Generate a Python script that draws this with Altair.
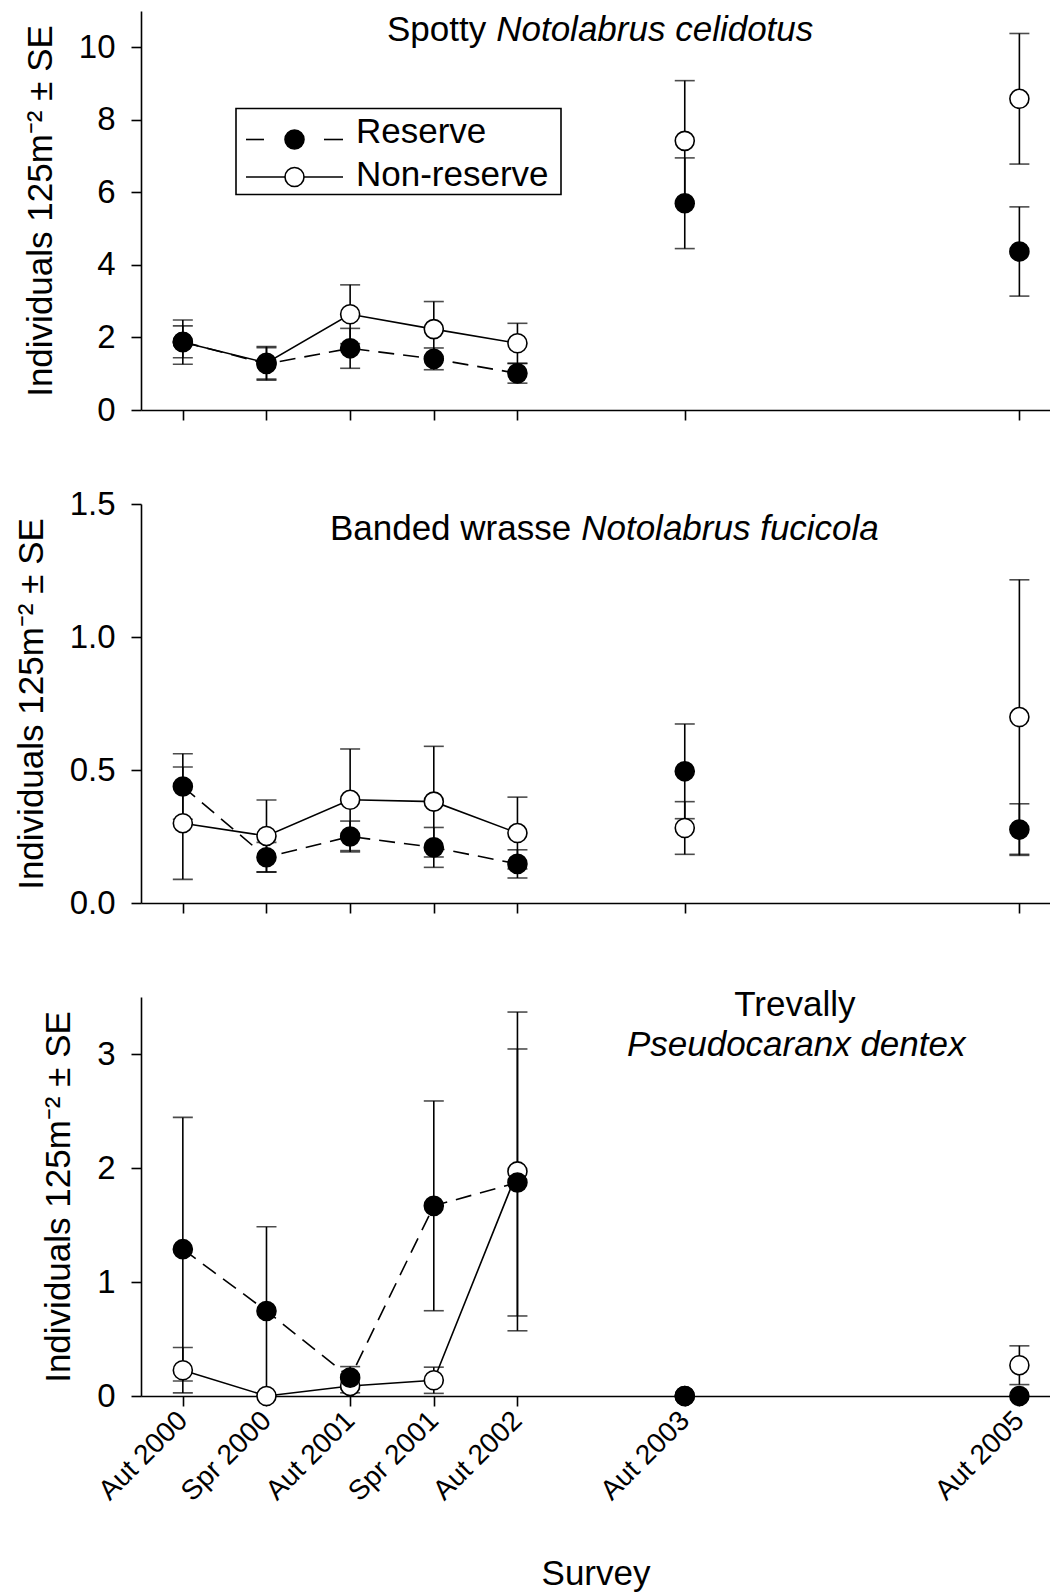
import altair as alt
import pandas as pd

FONT = "Liberation Sans"

# Survey occasions and their position on the time axis (years after Aut 2000)
surveys = ["Aut 2000", "Spr 2000", "Aut 2001", "Spr 2001", "Aut 2002", "Aut 2003", "Aut 2005"]
survey_years = [0, 0.5, 1, 1.5, 2, 3, 5]
n_joined = 5  # the first five (consecutive) surveys are joined by lines
sites = ["Reserve", "Non-reserve"]

# Spotty, Notolabrus celidotus: mean and SE (individuals per 125 m2)
spotty_res_mean = [1.88, 1.27, 1.70, 1.41, 1.01, 5.70, 4.37]
spotty_res_se = [0.44, 0.45, 0.55, 0.30, 0.27, 1.25, 1.23]
spotty_non_mean = [1.87, 1.30, 2.64, 2.23, 1.84, 7.42, 8.58]
spotty_non_se = [0.61, 0.45, 0.81, 0.76, 0.55, 1.66, 1.80]

# Banded wrasse, Notolabrus fucicola
banded_res_mean = [0.438, 0.172, 0.250, 0.209, 0.147, 0.495, 0.276]
banded_res_se = [0.123, 0.056, 0.058, 0.075, 0.053, 0.178, 0.097]
banded_non_mean = [0.300, 0.252, 0.388, 0.381, 0.263, 0.282, 0.699]
banded_non_se = [0.211, 0.135, 0.191, 0.208, 0.135, 0.099, 0.516]

# Trevally, Pseudocaranx dentex
trev_res_mean = [1.288, 0.746, 0.161, 1.668, 1.873, 0.0, 0.0]
trev_res_se = [1.156, 0.738, 0.097, 0.920, 1.171, 0.0, 0.0]
trev_non_mean = [0.226, 0.0, 0.088, 0.138, 1.970, 0.0, 0.27]
trev_non_se = [0.199, 0.0, 0.060, 0.115, 1.398, 0.0, 0.17]

Y_TITLE = "Individuals 125m\u207b\u00b2 \u00b1 SE"
PLOT_W, PLOT_H = 909, 399
X_DOMAIN = [-0.25, 5.183]
LW = 1.6
DASH = [16, 9]
MARK_SIZE = 361

label_expr = "".join(
    f"datum.value == {v} ? '{s}' : " for v, s in zip(survey_years, surveys)
) + "''"


def frame(res_mean, res_se, non_mean, non_se):
    rows = []
    for site, means, ses in (("Non-reserve", non_mean, non_se), ("Reserve", res_mean, res_se)):
        for i, (name, pos, m, s) in enumerate(zip(surveys, survey_years, means, ses)):
            rows.append(dict(survey=name, pos=pos, site=site, mean=m, se=s,
                             lo=m - s, hi=m + s, joined=i < n_joined))
    return pd.DataFrame(rows)


def legend_layers():
    """Key box in the upper left of the first panel (pixel offsets in the plot area)."""
    key = pd.DataFrame({"site": sites})
    box = alt.Chart(key).transform_filter("datum.site == 'Reserve'").mark_rect(
        fill="white", stroke="black", strokeWidth=LW).encode(
        x=alt.value(95), x2=alt.value(420), y=alt.value(97.5), y2=alt.value(183.5))
    out = [box]
    rows = {"Reserve": (128.5, 131.8, "black", True),
            "Non-reserve": (166, 175.2, "white", False)}
    for site, (ym, ytext, fill, dashed) in rows.items():
        sel = alt.Chart(key).transform_filter(f"datum.site == '{site}'")
        segs = [(105, 123), (183, 202)] if dashed else [(105, 202)]
        for a, b in segs:
            out.append(sel.mark_rule(color="black", strokeWidth=LW).encode(
                x=alt.value(a), x2=alt.value(b), y=alt.value(ym)))
        out.append(sel.mark_point(shape="circle", filled=True, fill=fill, stroke="black",
                                  strokeWidth=LW, size=MARK_SIZE, opacity=1).encode(
            x=alt.value(153.5), y=alt.value(ym)))
        out.append(sel.mark_text(font=FONT, fontSize=35, align="left", baseline="alphabetic",
                                 color="black").encode(
            x=alt.value(215), y=alt.value(ytext), text="site:N"))
    return out


def panel(df, ymax, yticks, yfmt, titles, bottom=False, legend=False):
    xaxis = alt.Axis(values=survey_years, labels=bottom, labelExpr=label_expr,
                     labelAngle=-45, labelAlign="right", labelBaseline="middle",
                     labelOverlap=False, labelPadding=10, labelFontSize=28,
                     title="Survey" if bottom else None, titlePadding=50)
    xs = alt.Scale(domain=X_DOMAIN, nice=False, zero=False)
    ys = alt.Scale(domain=[0, ymax], nice=False)
    yaxis = alt.Axis(values=yticks, format=yfmt, title=Y_TITLE, labelPadding=16,
                     titlePadding=20)

    def X(f):
        return alt.X(f, type="quantitative", scale=xs, axis=xaxis)

    def Y(f):
        return alt.Y(f, type="quantitative", scale=ys, axis=yaxis)

    base = alt.Chart(df)
    with_err = base.transform_filter("datum.se > 0")
    bars = with_err.mark_rule(color="black", strokeWidth=LW).encode(
        x=X("pos"), y=Y("lo"), y2="hi")
    cap_lo = with_err.mark_tick(orient="horizontal", size=20, thickness=LW, color="black").encode(
        x=X("pos"), y=Y("lo"))
    cap_hi = with_err.mark_tick(orient="horizontal", size=20, thickness=LW, color="black").encode(
        x=X("pos"), y=Y("hi"))
    line_non = base.transform_filter("datum.joined && datum.site == 'Non-reserve'").mark_line(
        color="black", strokeWidth=LW).encode(x=X("pos"), y=Y("mean"), order="pos:Q")
    line_res = base.transform_filter("datum.joined && datum.site == 'Reserve'").mark_line(
        color="black", strokeWidth=LW, strokeDash=DASH).encode(x=X("pos"), y=Y("mean"), order="pos:Q")
    pts_non = base.transform_filter("datum.site == 'Non-reserve'").mark_point(
        shape="circle", filled=True, fill="white", stroke="black", strokeWidth=LW,
        size=MARK_SIZE, opacity=1).encode(x=X("pos"), y=Y("mean"))
    pts_res = base.transform_filter("datum.site == 'Reserve'").mark_point(
        shape="circle", filled=True, fill="black", stroke="black", strokeWidth=LW,
        size=MARK_SIZE, opacity=1).encode(x=X("pos"), y=Y("mean"))

    layers = [bars, cap_lo, cap_hi, line_non, line_res, pts_non, pts_res]

    for tx, ty, txt, align, italic in titles:
        ann = pd.DataFrame({"tx": [tx], "ty": [ty], "txt": [txt]})
        dx = {"right": -5, "left": 5, "center": 0}[align]
        layers.append(
            alt.Chart(ann).mark_text(font=FONT, fontSize=35, align=align, baseline="alphabetic",
                                     fontStyle="italic" if italic else "normal",
                                     color="black", dx=dx)
            .encode(x=X("tx"), y=Y("ty"), text="txt:N"))

    if legend:
        layers.extend(legend_layers())

    return alt.layer(*layers).properties(width=PLOT_W, height=PLOT_H)


p1 = panel(frame(spotty_res_mean, spotty_res_se, spotty_non_mean, spotty_non_se),
           11, [0, 2, 4, 6, 8, 10], "d",
           [(1.843, 10.17, "Spotty", "right", False),
            (1.843, 10.17, "Notolabrus celidotus", "left", True)],
           legend=True)
p2 = panel(frame(banded_res_mean, banded_res_se, banded_non_mean, banded_non_se),
           1.5, [0, 0.5, 1.0, 1.5], ".1f",
           [(2.351, 1.366, "Banded wrasse", "right", False),
            (2.351, 1.366, "Notolabrus fucicola", "left", True)])
p3 = panel(frame(trev_res_mean, trev_res_se, trev_non_mean, trev_non_se),
           3.5, [0, 1, 2, 3], "d",
           [(3.658, 3.331, "Trevally", "center", False),
            (3.666, 2.985, "Pseudocaranx dentex", "center", True)],
           bottom=True)

chart = (
    alt.vconcat(p1, p2, p3, spacing=94, bounds="flush")
    .properties(padding={"left": 14, "top": 11, "right": 0, "bottom": 5}, background="white")
    .configure_view(stroke=None)
    .configure_axis(domainColor="black", domainWidth=LW, tickColor="black", tickWidth=LW,
                    tickSize=10, grid=False, labelFont=FONT, labelFontSize=33,
                    labelColor="black", titleFont=FONT, titleFontSize=35,
                    titleFontWeight="normal", titleColor="black")
)

chart.save("out.html", embed_options={"renderer": "svg", "actions": False})
